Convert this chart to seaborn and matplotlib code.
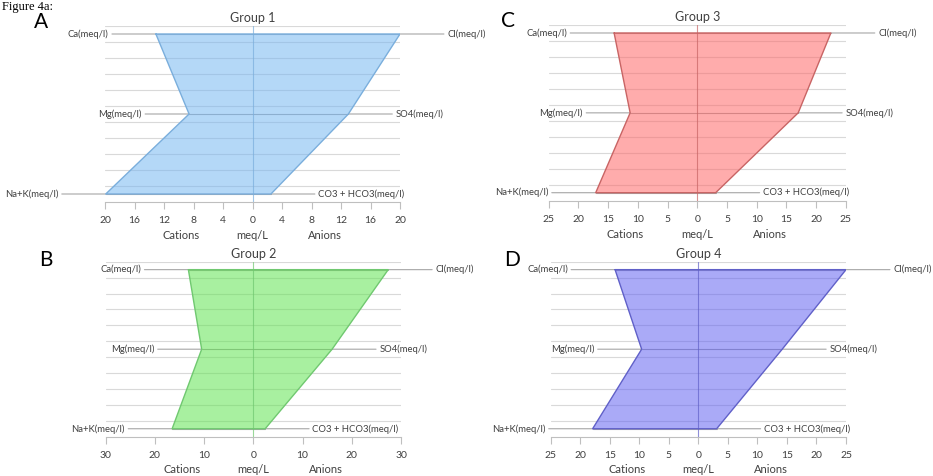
import matplotlib
matplotlib.use("Agg")
import matplotlib.pyplot as plt
import seaborn as sns
import pandas as pd

# Stiff diagram data (meq/L)
cation_names = ["Ca(meq/l)", "Mg(meq/l)", "Na+K(meq/l)"]
anion_names = ["Cl(meq/l)", "SO4(meq/l)", "CO3 + HCO3(meq/l)"]
row_levels = [10.5, 5.5, 0.5]

group_titles = ["Group 1", "Group 2", "Group 3", "Group 4"]
panel_letters = ["A", "B", "C", "D"]

g1_cations = [13.1, 8.6, 19.9]
g1_anions = [20.0, 13.0, 2.5]
g2_cations = [13.2, 10.5, 16.5]
g2_anions = [27.4, 16.0, 2.4]
g3_cations = [14.0, 11.3, 17.1]
g3_anions = [22.5, 17.0, 3.1]
g4_cations = [14.1, 9.6, 17.9]
g4_anions = [25.0, 14.2, 3.1]

g1_ticks = [-20, -16, -12, -8, -4, 0, 4, 8, 12, 16, 20]
g2_ticks = [-30, -20, -10, 0, 10, 20, 30]
g3_ticks = [-25, -20, -15, -10, -5, 0, 5, 10, 15, 20, 25]
g4_ticks = [-25, -20, -15, -10, -5, 0, 5, 10, 15, 20, 25]

sns.set_theme(style="white")
plt.rcParams["font.family"] = ["Lato", "DejaVu Sans"]

W, H = 933, 476
fig = plt.figure(figsize=(W / 100, H / 100), dpi=100)

# axes boxes in pixels: (left, right, top, bottom)
boxes = [
    (105, 400, 26, 202),
    (105.7, 401, 261.7, 436.7),
    (548.8, 845.7, 25, 200.7),
    (550.7, 846, 261.7, 436.7),
]
fills = ["#77b8f2", "#61e452", "#ff6868", "#6464f2"]
edges = ["#7aaedc", "#70c870", "#c86464", "#6060c8"]
letter_pos = [(41, 22), (46, 260), (508, 21), (512, 260)]

panels = [
    (g1_cations, g1_anions, g1_ticks),
    (g2_cations, g2_anions, g2_ticks),
    (g3_cations, g3_anions, g3_ticks),
    (g4_cations, g4_anions, g4_ticks),
]

text_c = "#404040"
grid_c = "#d9d9d9"
row_c = "#a6a6a6"

for i, (cats, ans, ticks) in enumerate(panels):
    l, r, t, b = boxes[i]
    ax = fig.add_axes([l / W, 1 - b / H, (r - l) / W, (b - t) / H])
    lim = ticks[-1]
    ax.set_xlim(-lim, lim)
    ax.set_ylim(0, 11)

    # horizontal gridlines
    for gy in range(1, 12):
        ax.axhline(gy, color=grid_c, lw=0.8, zorder=0)

    # row leader lines and labels
    for name, val, y in zip(cation_names, cats, row_levels):
        ax.annotate(name, xy=(-val, y), xytext=(-34, 0), textcoords="offset points",
                    ha="right", va="center", fontsize=6.8, color=text_c,
                    annotation_clip=False,
                    arrowprops=dict(arrowstyle="-", color=row_c, lw=0.8,
                                    shrinkA=0, shrinkB=0))
    for name, val, y in zip(anion_names, ans, row_levels):
        ax.annotate(name, xy=(val, y), xytext=(34, 0), textcoords="offset points",
                    ha="left", va="center", fontsize=6.8, color=text_c,
                    annotation_clip=False,
                    arrowprops=dict(arrowstyle="-", color=row_c, lw=0.8,
                                    shrinkA=0, shrinkB=0))
    for cv, av, y in zip(cats, ans, row_levels):
        ax.plot([-cv, av], [y, y], color=row_c, lw=0.8, zorder=1)

    # polygon
    poly = pd.DataFrame({
        "x": [-c for c in cats] + ans[::-1] + [-cats[0]],
        "y": row_levels + row_levels[::-1] + [row_levels[0]],
    })
    ax.fill(poly["x"], poly["y"], color=fills[i], alpha=0.55, lw=0, zorder=2)
    sns.lineplot(data=poly, x="x", y="y", sort=False, estimator=None,
                 color=edges[i], lw=1.0, ax=ax, zorder=3)

    # centre line
    ax.axvline(0, color=edges[i], lw=0.8, alpha=0.7, zorder=4)

    # axes styling
    for s in ["top", "right", "left"]:
        ax.spines[s].set_visible(False)
    ax.spines["bottom"].set_color("#bfbfbf")
    ax.spines["bottom"].set_linewidth(0.8)
    ax.set_xticks(ticks)
    ax.set_xticklabels([str(abs(v)) for v in ticks], fontsize=7.5, color=text_c)
    ax.tick_params(axis="x", direction="out", length=5, width=0.8,
                   color="#bfbfbf", pad=5, bottom=True)
    ax.set_yticks([])
    ax.set_xlabel("")
    ax.set_ylabel("")
    ax.set_title(group_titles[i], fontsize=9, color=text_c, pad=3)

    for txt, fx in (("Cations", 0.258), ("meq/L", 0.5), ("Anions", 0.746)):
        ax.text(fx, -0.19, txt, transform=ax.transAxes, ha="center", va="center",
                fontsize=8, color=text_c)

    lx, ly = letter_pos[i]
    fig.text(lx / W, 1 - ly / H, panel_letters[i], ha="center", va="center",
             fontsize=15, color="black")

# figure caption in the top-left corner
fig.text(2 / W, 1 - 1 / H, "Figure 4a:", ha="left", va="top",
         fontsize=9, color="black", family=["Liberation Serif", "DejaVu Serif"])

fig.savefig("out.png", dpi=100)
